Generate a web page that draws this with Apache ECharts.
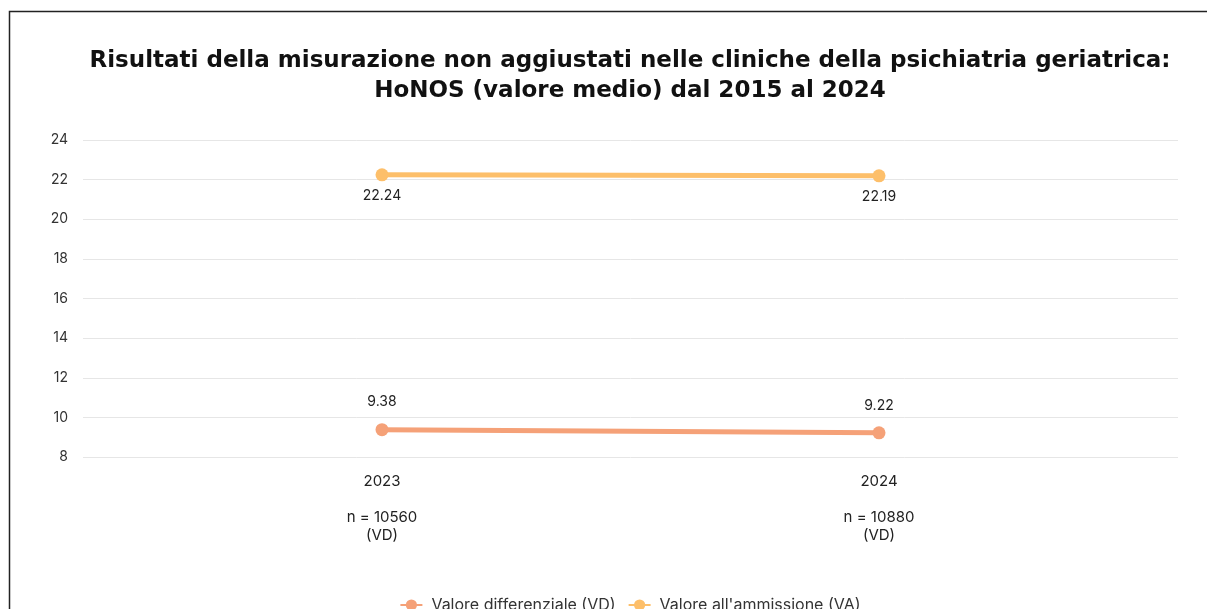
<!DOCTYPE html>
<html>
<head>
<meta charset="utf-8">
<script src="https://cdn.jsdelivr.net/npm/echarts@6/dist/echarts.min.js"></script>
<style>
html,body{margin:0;padding:0;background:#fff;overflow:hidden;width:1207px;height:609px;}
#chart{width:1260px;height:609px;}
</style>
</head>
<body>
<div id="chart"></div>
<script>
const titleText = 'Risultati della misurazione non aggiustati nelle cliniche della psichiatria geriatrica:\nHoNOS (valore medio) dal 2015 al 2024';
const categories = ['2023', '2024'];
const sampleLabels = ['n = 10560\n(VD)', 'n = 10880\n(VD)'];
const seriesNames = ['Valore differenziale (VD)', "Valore all'ammissione (VA)"];
const vdValues = [9.38, 9.22];
const vaValues = [22.24, 22.19];
const yTicks = [8, 10, 12, 14, 16, 18, 20, 22, 24];

const font = 'Inter, Roboto, sans-serif';
const chart = echarts.init(document.getElementById('chart'));
const yMin = yTicks[0], yMax = yTicks[yTicks.length - 1];

chart.setOption({
  backgroundColor: '#fff',
  animation: false,
  title: {
    text: titleText,
    left: 'center',
    top: 41,
    textStyle: { fontFamily: '"DejaVu Sans", sans-serif', fontSize: 23, fontWeight: 'bold', color: '#111', lineHeight: 30 }
  },
  graphic: [{
    type: 'rect',
    shape: { x: 9.5, y: 11.5, width: 1240, height: 800 },
    style: { fill: 'none', stroke: '#222', lineWidth: 1.5 },
    silent: true
  }],
  legend: {
    data: seriesNames,
    bottom: -9,
    left: 'center',
    itemWidth: 22,
    itemHeight: 14,
    itemGap: 12,
    textStyle: { fontFamily: font, fontSize: 16, color: '#333', padding: [0, 0, 0, 4] }
  },
  grid: [
    { left: 83, right: 82, top: 140, height: 317 },
    { left: 382, right: 381, top: 140, height: 317 }
  ],
  xAxis: [
    { gridIndex: 0, type: 'category', data: categories, show: false },
    {
      gridIndex: 1, type: 'category', data: categories, boundaryGap: false,
      axisLine: { show: false }, axisTick: { show: false },
      axisLabel: {
        margin: 15, color: '#222', fontFamily: font, fontSize: 15, lineHeight: 18,
        formatter: (v, i) => v + '\n\n' + sampleLabels[i]
      }
    }
  ],
  yAxis: [
    {
      gridIndex: 0, type: 'value', min: yMin, max: yMax, interval: 2,
      axisLine: { show: false }, axisTick: { show: false },
      axisLabel: { margin: 15, color: '#333', fontFamily: font, fontSize: 14 },
      splitLine: { lineStyle: { color: '#e6e6e6', width: 1 } }
    },
    { gridIndex: 1, type: 'value', min: yMin, max: yMax, interval: 2, show: false, splitLine: { show: false } }
  ],
  series: [
    {
      name: seriesNames[0], type: 'line', xAxisIndex: 1, yAxisIndex: 1, data: vdValues,
      color: '#F5A178', symbol: 'circle', symbolSize: 13, lineStyle: { width: 5 },
      label: { show: true, position: 'top', distance: 14, color: '#222', fontFamily: font, fontSize: 14 }
    },
    {
      name: seriesNames[1], type: 'line', xAxisIndex: 1, yAxisIndex: 1, data: vaValues,
      color: '#FDBF6A', symbol: 'circle', symbolSize: 13, lineStyle: { width: 5 },
      label: { show: true, position: 'bottom', distance: 7, color: '#222', fontFamily: font, fontSize: 14 }
    }
  ]
});
</script>
</body>
</html>
